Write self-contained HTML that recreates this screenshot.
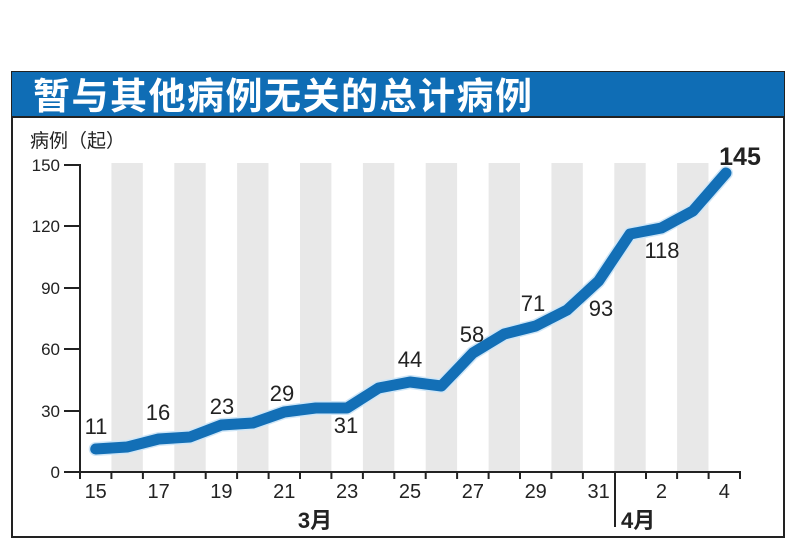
<!DOCTYPE html>
<html><head><meta charset="utf-8"><style>
html,body{margin:0;padding:0;background:#fff;}
svg{display:block;}
text{font-family:"Liberation Sans","Noto Sans CJK SC",sans-serif;}
</style></head><body>
<svg width="800" height="551" viewBox="0 0 800 551" xmlns="http://www.w3.org/2000/svg">
<rect x="0" y="0" width="800" height="551" fill="#fff"/>
<rect x="12" y="72" width="772" height="465" fill="#fff" stroke="#222" stroke-width="2"/>
<rect x="12" y="72" width="772" height="45" fill="#0f6db5"/>
<line x1="12" y1="117" x2="784" y2="117" stroke="#222" stroke-width="2"/>
<text x="33" y="109" font-size="37" font-weight="bold" fill="#fff" letter-spacing="1.5" font-family="'Noto Sans CJK SC',sans-serif">暂与其他病例无关的总计病例</text>
<text x="30" y="147" font-size="19" fill="#222" font-family="'Noto Sans CJK SC',sans-serif">病例（起）</text>
<g fill="#e8e8e8">
<rect x="111.4" y="163" width="31.4" height="309"/>
<rect x="174.3" y="163" width="31.4" height="309"/>
<rect x="237.1" y="163" width="31.4" height="309"/>
<rect x="300" y="163" width="31.4" height="309"/>
<rect x="362.9" y="163" width="31.4" height="309"/>
<rect x="425.7" y="163" width="31.4" height="309"/>
<rect x="488.6" y="163" width="31.4" height="309"/>
<rect x="551.4" y="163" width="31.4" height="309"/>
<rect x="614.3" y="163" width="31.4" height="309"/>
<rect x="677.1" y="163" width="31.4" height="309"/>
</g>
<g stroke="#222" stroke-width="2" fill="none">
<line x1="80" y1="164" x2="80" y2="473"/>
<line x1="64" y1="165" x2="80" y2="165"/>
<line x1="64" y1="226" x2="80" y2="226"/>
<line x1="64" y1="288" x2="80" y2="288"/>
<line x1="64" y1="349" x2="80" y2="349"/>
<line x1="64" y1="411" x2="80" y2="411"/>
<line x1="64" y1="472" x2="741" y2="472"/>
<line x1="615" y1="472" x2="615" y2="527"/>
<path d="M80 472v7M111.4 472v7M142.9 472v7M174.3 472v7M205.7 472v7M237.1 472v7M268.6 472v7M300 472v7M331.4 472v7M362.9 472v7M394.3 472v7M425.7 472v7M457.1 472v7M488.6 472v7M520 472v7M551.4 472v7M582.9 472v7M646 472v7M677.1 472v7M708.6 472v7M740 472v7"/>
</g>
<g font-size="17" fill="#222" text-anchor="end">
<text x="60" y="171">150</text><text x="60" y="232">120</text><text x="60" y="294">90</text><text x="60" y="355">60</text><text x="60" y="417">30</text><text x="60" y="478">0</text>
</g>
<g font-size="20" fill="#222" text-anchor="middle">
<text x="95.7" y="498">15</text><text x="158.6" y="498">17</text><text x="221.4" y="498">19</text><text x="284.3" y="498">21</text><text x="347.1" y="498">23</text><text x="410" y="498">25</text><text x="472.9" y="498">27</text><text x="535.7" y="498">29</text><text x="598.6" y="498">31</text><text x="661.4" y="498">2</text><text x="724.3" y="498">4</text>
</g>
<text x="315" y="528" font-size="22" font-weight="bold" fill="#222" text-anchor="middle" font-family="'Liberation Sans','Noto Sans CJK SC',sans-serif">3月</text>
<text x="621" y="528" font-size="22" font-weight="bold" fill="#222" font-family="'Liberation Sans','Noto Sans CJK SC',sans-serif">4月</text>
<polyline fill="none" stroke="#cfe6f7" stroke-width="14" stroke-linejoin="round" stroke-linecap="round"
points="95.7,449 127.1,447 158.6,439 190,437 221.4,425 252.9,423 284.3,412 315.7,408 347.1,408 378.6,388 410,382 441.4,386 472.9,353 504.3,334 535.7,326 567.1,310 598.6,281 630,234 661.4,228 692.9,211 726,173"/>
<polyline fill="none" stroke="#136fb6" stroke-width="11" stroke-linejoin="round" stroke-linecap="round"
points="95.7,449 127.1,447 158.6,439 190,437 221.4,425 252.9,423 284.3,412 315.7,408 347.1,408 378.6,388 410,382 441.4,386 472.9,353 504.3,334 535.7,326 567.1,310 598.6,281 630,234 661.4,228 692.9,211 726,173"/>
<g font-size="22" fill="#222" text-anchor="middle">
<text x="96" y="434">11</text><text x="158" y="420">16</text><text x="222" y="414">23</text><text x="282" y="401">29</text><text x="346" y="433">31</text><text x="410" y="367">44</text><text x="472" y="342">58</text><text x="533" y="311">71</text><text x="601" y="316">93</text><text x="662" y="258">118</text>
</g>
<text x="740" y="165" font-size="25" font-weight="bold" fill="#222" text-anchor="middle">145</text>
</svg>
</body></html>
